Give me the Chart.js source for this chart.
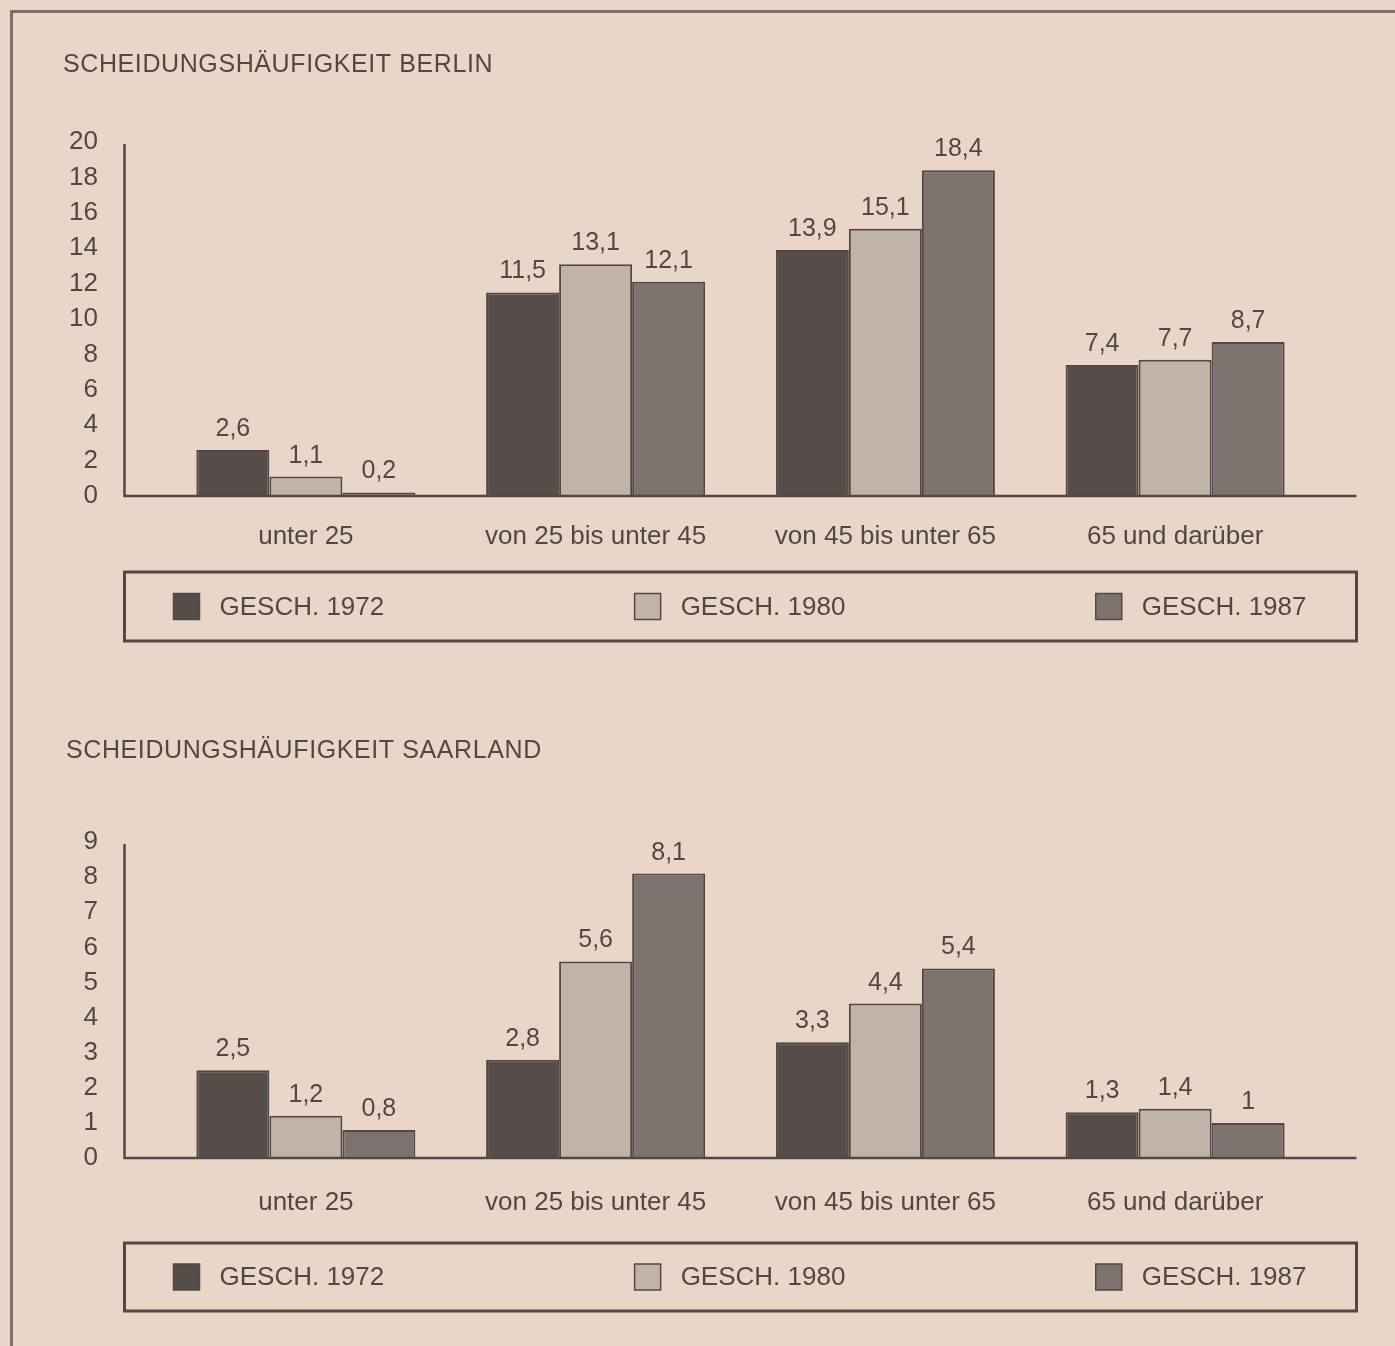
<!DOCTYPE html>
<html lang="de">
<head>
<meta charset="utf-8">
<title>Scheidungshäufigkeit Berlin und Saarland</title>
<script src="https://cdn.jsdelivr.net/npm/chart.js@4.4.1/dist/chart.umd.min.js"></script>
<style>
  html, body { margin: 0; padding: 0; background: #ead6c8; }
  #page { position: relative; width: 1395px; height: 1346px; overflow: hidden; background: #ead6c8; }
  #frame {
    position: absolute; left: 10px; top: 10px; right: -20px; bottom: -20px;
    border-top: 3px solid #7d706a; border-left: 3px solid #7d706a;
  }
  .box { position: absolute; left: 0; width: 1395px; }
  #box-berlin { top: 0; height: 680px; }
  #box-saarland { top: 680px; height: 666px; }
</style>
</head>
<body>
<div id="page">
  <div id="frame"></div>
  <div class="box" id="box-berlin"><canvas id="berlin"></canvas></div>
  <div class="box" id="box-saarland"><canvas id="saarland"></canvas></div>
</div>
<script>
const categories = ["unter 25", "von 25 bis unter 45", "von 45 bis unter 65", "65 und darüber"];
const seriesNames = ["GESCH. 1972", "GESCH. 1980", "GESCH. 1987"];

const berlin1972 = [2.6, 11.5, 13.9, 7.4];
const berlin1980 = [1.1, 13.1, 15.1, 7.7];
const berlin1987 = [0.2, 12.1, 18.4, 8.7];

const saar1972 = [2.5, 2.8, 3.3, 1.3];
const saar1980 = [1.2, 5.6, 4.4, 1.4];
const saar1987 = [0.8, 8.1, 5.4, 1];

const berlinAxis = { max: 20, step: 2 };
const saarAxis = { max: 9, step: 1 };

const FONT = "'Liberation Sans', Arial, Helvetica, sans-serif";
const TEXT = "#524843";
const LINE = "#524844";
const fills = ["#564c49", "#c1b3a8", "#7e726e"];

Chart.defaults.font.family = FONT;
Chart.defaults.color = TEXT;

// number with German decimal comma
const fmt = v => String(v).replace(".", ",");

// axis lines, value labels, title and boxed legend
const chartParts = {
  id: "chartParts",
  afterDatasetsDraw(chart, args, opts) {
    const ctx = chart.ctx;
    const area = chart.chartArea;
    const left = area.left - opts.overhang;
    const right = area.right + opts.overhang;

    ctx.save();
    ctx.strokeStyle = LINE;
    ctx.lineWidth = 2.5;
    ctx.beginPath();
    ctx.moveTo(left, area.top + 2);
    ctx.lineTo(left, area.bottom);
    ctx.lineTo(right, area.bottom);
    ctx.stroke();

    ctx.font = "25px " + FONT;
    ctx.fillStyle = TEXT;
    ctx.textAlign = "center";
    ctx.textBaseline = "alphabetic";
    chart.data.datasets.forEach((ds, i) => {
      chart.getDatasetMeta(i).data.forEach((bar, j) => {
        ctx.fillText(fmt(ds.data[j]), bar.x, bar.y - 14);
      });
    });
    ctx.restore();
  },
  afterDraw(chart, args, opts) {
    const ctx = chart.ctx;
    const area = chart.chartArea;
    const left = area.left - opts.overhang;
    const right = area.right + opts.overhang;

    ctx.save();
    // title
    ctx.font = "25px " + FONT;
    ctx.fillStyle = TEXT;
    ctx.textAlign = "left";
    ctx.textBaseline = "middle";
    ctx.letterSpacing = "0.6px";
    ctx.fillText(opts.title, opts.titleX, opts.titleY);
    ctx.letterSpacing = "0px";

    // legend frame
    ctx.strokeStyle = LINE;
    ctx.lineWidth = 3;
    ctx.strokeRect(left, opts.legendTop, right - left, opts.legendBottom - opts.legendTop);

    // legend items spread across the frame
    const sq = 26, gap = 20;
    ctx.font = "26px " + FONT;
    const items = chart.data.datasets.map(ds => ({
      ds, w: sq + gap + ctx.measureText(ds.label).width
    }));
    const x0 = left + 49, x1 = right - 50;
    const total = items.reduce((s, it) => s + it.w, 0);
    const space = (x1 - x0 - total) / (items.length - 1);
    const cy = (opts.legendTop + opts.legendBottom) / 2;
    let x = x0;
    items.forEach(it => {
      ctx.fillStyle = it.ds.backgroundColor;
      ctx.fillRect(x, cy - sq / 2, sq, sq);
      ctx.strokeStyle = LINE;
      ctx.lineWidth = 1.5;
      ctx.strokeRect(x, cy - sq / 2, sq, sq);
      ctx.fillStyle = TEXT;
      ctx.textAlign = "left";
      ctx.textBaseline = "middle";
      ctx.fillText(it.ds.label, x + sq + gap, cy + 1);
      x += it.w + space;
    });
    ctx.restore();
  }
};

function makeChart(id, series, axis, box) {
  return new Chart(document.getElementById(id), {
    type: "bar",
    data: {
      labels: categories,
      datasets: series.map((data, i) => ({
        label: seriesNames[i],
        data: data,
        backgroundColor: fills[i],
        borderColor: LINE,
        borderWidth: 2,
        categoryPercentage: 0.756,
        barPercentage: 1.0
      }))
    },
    options: {
      responsive: true,
      maintainAspectRatio: false,
      animation: false,
      layout: {
        padding: { top: box.plotTop, right: 75, bottom: box.height - box.plotBottom - 62, left: 0 }
      },
      plugins: {
        legend: { display: false },
        tooltip: { enabled: false },
        chartParts: {
          title: box.title,
          titleX: box.titleX,
          titleY: box.titleY,
          legendTop: box.legendTop,
          legendBottom: box.legendBottom,
          overhang: 36.5
        }
      },
      scales: {
        x: {
          grid: { display: false, drawTicks: false },
          border: { display: false },
          ticks: { font: { size: 26 }, padding: box.labelPad, color: TEXT },
          afterFit: s => { s.height = 62; }
        },
        y: {
          min: 0,
          max: axis.max,
          grid: { display: false, drawTicks: false },
          border: { display: false },
          ticks: { stepSize: axis.step, font: { size: 26 }, padding: 63, color: TEXT },
          afterFit: s => { s.width = 161; }
        }
      }
    },
    plugins: [chartParts]
  });
}

makeChart("berlin", [berlin1972, berlin1980, berlin1987], berlinAxis, {
  title: "SCHEIDUNGSHÄUFIGKEIT BERLIN",
  titleX: 63, titleY: 65,
  height: 680, plotTop: 142, plotBottom: 496,
  labelPad: 25,
  legendTop: 572, legendBottom: 641
});

makeChart("saarland", [saar1972, saar1980, saar1987], saarAxis, {
  title: "SCHEIDUNGSHÄUFIGKEIT SAARLAND",
  titleX: 66, titleY: 71,
  height: 666, plotTop: 162, plotBottom: 478,
  labelPad: 29,
  legendTop: 563, legendBottom: 631
});
</script>
</body>
</html>
